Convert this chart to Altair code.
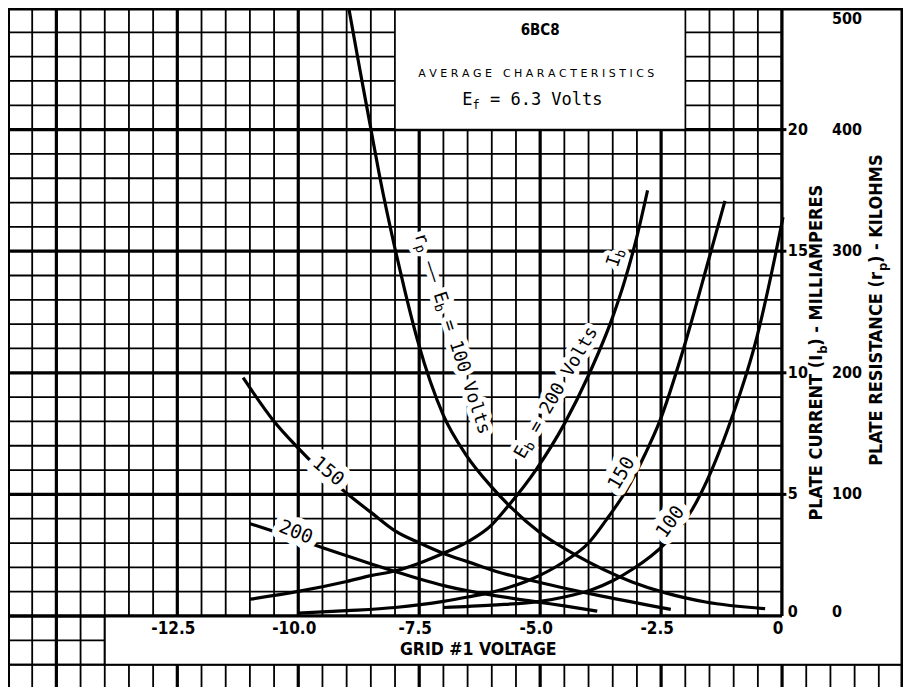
import altair as alt
import pandas as pd

# ---------------- data ----------------
# Plate current Ib (mA) vs grid #1 voltage (V)
ib200_v = [-11.0, -10.0, -9.0, -8.5, -8.0, -7.5, -7.0, -6.5, -6.0, -5.67, -5.09, -4.5, -4.0, -3.5, -3.25, -3.0, -2.78]
ib200 = [0.69, 1.01, 1.42, 1.66, 1.85, 2.17, 2.58, 3.05, 3.75, 4.5, 6.0, 7.9, 9.9, 12.3, 13.8, 15.6, 17.5]
ib150_v = [-10.0, -9.0, -8.0, -7.0, -6.5, -5.92, -5.16, -4.54, -4.0, -3.58, -3.23, -2.82, -2.53, -2.02, -1.51, -1.18]
ib150 = [0.12, 0.22, 0.35, 0.6, 0.78, 1.02, 1.53, 2.19, 3.0, 4.1, 5.13, 6.7, 8.0, 11.1, 14.7, 17.07]
ib100_v = [-7.0, -6.0, -5.0, -4.5, -3.92, -3.5, -3.1, -2.41, -1.86, -1.45, -1.03, -0.52, -0.15, 0.02]
ib100 = [0.35, 0.45, 0.6, 0.78, 1.09, 1.45, 1.91, 3.0, 4.37, 6.02, 8.2, 11.47, 14.73, 16.4]
# Plate resistance rp (kilohms) vs grid #1 voltage (V)
rp100_v = [-8.97, -8.73, -8.52, -8.32, -8.0, -7.8, -7.53, -7.0, -6.54, -6.0, -5.67, -5.02, -4.26, -3.1, -2.41, -1.58, -0.35]
rp100 = [503, 450, 405, 362, 302, 268, 226, 165, 133, 106, 92, 69, 50, 28, 19, 11.5, 6]
rp150_v = [-11.14, -10.52, -10.0, -9.5, -9.0, -8.49, -8.0, -7.49, -6.97, -6.49, -5.94, -5.16, -3.92, -2.3]
rp150 = [196, 161, 138, 118, 101, 85, 70, 60, 51, 44.5, 37, 29, 18, 5.4]
rp200_v = [-11.0, -10.0, -9.48, -9.0, -8.49, -7.98, -7.49, -6.97, -6.49, -5.94, -5.0, -4.5, -3.82]
rp200 = [76, 63, 56, 49.6, 42.8, 36.4, 30.4, 24.8, 20.6, 16.8, 11.2, 8.3, 4.0]

v_ticks = [-12.5, -10.0, -7.5, -5.0, -2.5, 0.0]
v_labels = ["-12.5", "-10.0", "-7.5", "-5.0", "-2.5", "0"]
ib_ticks = [0, 5, 10, 15, 20]
rp_ticks = [0, 100, 200, 300, 400, 500]
RP_PER_MA = 20  # 500 kilohms on the right scale = 25 mA on the left one

# ---------------- build tables ----------------
rows = []
for name, kind, vs, vals in [
    ("ib200", "ib", ib200_v, ib200), ("ib150", "ib", ib150_v, ib150), ("ib100", "ib", ib100_v, ib100),
    ("rp100", "rp", rp100_v, rp100), ("rp150", "rp", rp150_v, rp150), ("rp200", "rp", rp200_v, rp200),
]:
    for v, val in zip(vs, vals):
        rows.append({"V": v, "val": val, "curve": name, "kind": kind})
curves = pd.DataFrame(rows)

X_LO, X_HI = -16, 2.5
Y_LO, Y_HI = -2.92, 25
xs = alt.Scale(domain=[X_LO, X_HI], nice=False, zero=False)
ys = alt.Scale(domain=[Y_LO, Y_HI], nice=False, zero=False)


def X(f):
    return alt.X(f, scale=xs, axis=None)


def Y(f):
    return alt.Y(f, scale=ys, axis=None)


# graph-paper grid: 0.5 V by 1 mA, heavier every 2.5 V / 5 mA
grid_x = [X_LO + 0.5 * i for i in range(38)]
grid_y = [-2 + i for i in range(28)]
grid = pd.DataFrame(
    [{"x": g, "x2": g, "y": Y_LO, "y2": Y_HI, "w": 3.2 if abs(g % 2.5) < 1e-6 else 1.8} for g in grid_x]
    + [{"x": X_LO, "x2": X_HI, "y": g, "y2": g, "w": 3.2 if g % 5 == 0 else 1.8} for g in grid_y]
)
grid_layer = alt.Chart(grid).mark_rule(color="black").encode(
    x=X("x:Q"), x2="x2:Q", y=Y("y:Q"), y2="y2:Q",
    strokeWidth=alt.StrokeWidth("w:Q", scale=None),
)

# white panels (right label panel, bottom label box, title box)
boxes = pd.DataFrame({
    "x": [0, -14, -8], "x2": [2.5, 2.5, -2],
    "y": [-2, -2, 20], "y2": [25, 0, 25], "sw": [0, 0, 1.5],
})
box_layer = alt.Chart(boxes).mark_rect(fill="white", stroke="black").encode(
    x=X("x:Q"), x2="x2:Q", y=Y("y:Q"), y2="y2:Q",
    strokeWidth=alt.StrokeWidth("sw:Q", scale=None),
)

frame_rows = [
    (-16, 2.5, 25, 25, 5), (-16, -16, -2.92, 25, 4), (2.5, 2.5, -2.92, 25, 5),
    (0, 0, 0, 25, 3), (-16, 0, 0, 0, 3), (-16, 2.5, -2, -2, 2), (-14, -14, -2, 0, 2),
]
# short tick stubs to the right of the 0 V axis
frame_rows += [(0, 0.09, t, t, 3) for t in ib_ticks if t > 0]
frame = pd.DataFrame(frame_rows, columns=["x", "x2", "y", "y2", "w"])
frame_layer = alt.Chart(frame).mark_rule(color="black").encode(
    x=X("x:Q"), x2="x2:Q", y=Y("y:Q"), y2="y2:Q",
    strokeWidth=alt.StrokeWidth("w:Q", scale=None),
)

lines = alt.Chart(curves).transform_calculate(
    Y=f"datum.kind == 'rp' ? datum.val / {RP_PER_MA} : datum.val"
).mark_line(color="black", strokeWidth=3.2, interpolate="monotone", clip=True).encode(
    x=X("V:Q"), y=Y("Y:Q"), detail="curve:N", order="V:Q",
)

MONO = "DejaVu Sans Mono"
BOLD = "DejaVu Sans Condensed, Liberation Sans Narrow, DejaVu Sans"
LIGHT = "DejaVu Sans"
NB = "\u00a0"

halos, texts = [], []


def piece(x, y, t, size=18, font=MONO, weight="normal", angle=0, dx=0, dy=0,
          align="left", baseline="middle", halo=0):
    df = pd.DataFrame({"x": [x], "y": [y], "t": [t]})
    enc = dict(x=X("x:Q"), y=Y("y:Q"), text="t:N")
    props = dict(font=font, fontSize=size, fontWeight=weight, angle=angle, dx=dx, dy=dy,
                 align=align, baseline=baseline)
    if halo:
        halos.append(alt.Chart(df).mark_text(color="white", stroke="white", strokeWidth=halo,
                                             strokeJoin="round", strokeOpacity=1, **props).encode(**enc))
    texts.append(alt.Chart(df).mark_text(color="black", **props).encode(**enc))


CW = 0.602 * 18   # mono advance, main size
CWS = 0.602 * 13  # mono advance, subscript size

# curve labels
a, ax, ay = 72, -7.5, 15.73
piece(ax, ay, "r", angle=a, halo=10)
piece(ax, ay, "p", size=13, angle=a, dx=CW, dy=4, halo=8)
piece(ax, ay, "\u2014\u2014" + NB + "E", angle=a, dx=2 * CW + CWS, halo=10)
piece(ax, ay, "b", size=13, angle=a, dx=CW + CWS + 5 * CW, dy=4, halo=8)
piece(ax, ay, "=" + NB + "100" + NB + "Volts", angle=a, dx=2 * CWS + 7 * CW, halo=10)

a, ax, ay = 300, -5.43, 6.53
piece(ax, ay, "E", angle=a, halo=10)
piece(ax, ay, "b", size=13, angle=a, dx=CW, dy=4, halo=8)
piece(ax, ay, "=" + NB + "200" + NB + "Volts", angle=a, dx=2 * CW + CWS, halo=10)

a, ax, ay = 288, -3.5, 14.37
piece(ax, ay, "I", angle=a, halo=10)
piece(ax, ay, "b", size=13, angle=a, dx=CW, dy=4, halo=8)

piece(-9.38, 5.95, "150", size=19, angle=40, align="center", halo=14)
piece(-10.05, 3.45, "200", size=19, angle=22, align="center", halo=14)
piece(-3.32, 5.87, "150", size=19, angle=300, align="center", halo=14)
piece(-2.31, 3.87, "100", size=19, angle=305, align="center", halo=14)

# title box
piece(-5.0, 24.1, "6BC8", size=15, font=BOLD, weight="bold", align="center")
piece(-5.08, 22.29, "A V E R A G E\u2003C H A R A C T E R I S T I C S", size=11, font=LIGHT, align="center")
piece(-6.61, 21.0, "E", size=17, baseline="alphabetic")
piece(-6.61, 21.0, "f", size=12, dx=0.602 * 17, dy=4, baseline="alphabetic")
piece(-6.61, 21.0, "=" + NB + "6.3" + NB + "Volts", size=17, dx=0.602 * 29 + 0.602 * 17, baseline="alphabetic")

# x tick labels and title
for v, lab in zip(v_ticks, v_labels):
    piece(v, -0.55, lab, size=17, font=BOLD, weight="bold", align="center", dx=-4)
piece(-6.28, -1.4, "GRID #1 VOLTAGE", size=17.5, font=BOLD, weight="bold", align="center")

# right-hand scales
for t in ib_ticks:
    piece(0.12, t if t > 0 else 0.15, str(t), size=16, font=BOLD, weight="bold")
for t in rp_ticks:
    yv = min(t / RP_PER_MA, 24.55) if t > 0 else 0.15
    piece(1.03, yv, str(t), size=16, font=BOLD, weight="bold")

# right-hand titles
piece(0.72, 10.74, "PLATE CURRENT (I", size=18, font=BOLD, weight="bold", angle=270, align="right")
piece(0.72, 10.74, "b", size=13, font=BOLD, weight="bold", angle=270, dx=1, dy=6)
piece(0.72, 10.74, ") - MILLIAMPERES", size=18, font=BOLD, weight="bold", angle=270, dx=9)
piece(1.96, 14.14, "PLATE RESISTANCE (r", size=18, font=BOLD, weight="bold", angle=270, align="right")
piece(1.96, 14.14, "p", size=13, font=BOLD, weight="bold", angle=270, dx=1, dy=6)
piece(1.96, 14.14, ") - KILOHMS", size=18, font=BOLD, weight="bold", angle=270, dx=9)

chart = alt.layer(grid_layer, box_layer, lines, *halos, *texts, frame_layer).properties(
    width=895, height=679, padding=0, autosize="none"
).configure_view(stroke=None)

chart.save("out.html", embed_options={"renderer": "svg", "actions": False})
